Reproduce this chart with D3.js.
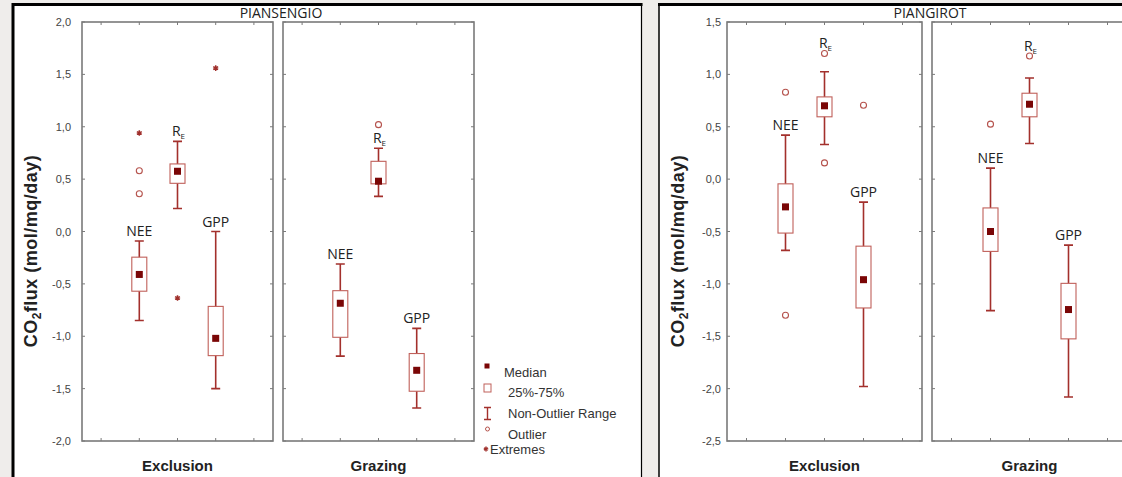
<!DOCTYPE html>
<html>
<head>
<meta charset="utf-8">
<script src="https://cdn.jsdelivr.net/npm/d3@7"></script>
<style>
  body { margin: 0; background: #efedeb; }
  svg { display: block; }
  .tick-label { font-family: "Liberation Sans", Arial, sans-serif; font-size: 11px; fill: #444; }
  .var-label { font-family: "Open Sans", sans-serif; font-size: 14px; fill: #222; }
  .site-title { font-family: "Open Sans", sans-serif; font-size: 14px; fill: #222; }
  .x-title { font-family: "Liberation Sans", Arial, sans-serif; font-size: 15px; font-weight: bold; fill: #222; }
  .y-title { font-family: "Liberation Sans", Arial, sans-serif; font-size: 18px; font-weight: bold; fill: #222; letter-spacing: 0.5px; }
  .legend text { font-family: "Liberation Sans", Arial, sans-serif; font-size: 13px; fill: #333; }
</style>
</head>
<body>
<div id="chart"></div>
<script>
// categories
var variables = ["NEE", "RE", "GPP"];
var treatments = ["Exclusion", "Grazing"];
var sites = ["PIANSENGIO", "PIANGIROT"];

// box stats per variable: [whisker low, 25%, median, 75%, whisker high]
var piansengioExclusion = [[-0.85, -0.57, -0.41, -0.245, -0.09], [0.22, 0.46, 0.575, 0.645, 0.86], [-1.50, -1.185, -1.02, -0.715, 0.0]];
var piansengioGrazing = [[-1.19, -1.01, -0.685, -0.565, -0.31], [0.335, 0.455, 0.48, 0.67, 0.795], [-1.685, -1.525, -1.325, -1.165, -0.925]];
var piangirotExclusion = [[-0.68, -0.515, -0.265, -0.045, 0.42], [0.33, 0.595, 0.70, 0.785, 1.025], [-1.98, -1.23, -0.96, -0.64, -0.22]];
var piangirotGrazing = [[-1.255, -0.69, -0.50, -0.275, 0.105], [0.34, 0.595, 0.715, 0.82, 0.965], [-2.08, -1.525, -1.245, -0.995, -0.63]];

// outliers (circles) per variable
var piansengioExclusionOut = [[0.58, 0.36], [], []];
var piansengioGrazingOut = [[], [1.02], []];
var piangirotExclusionOut = [[0.83, -1.30], [1.20, 0.155], [0.705]];
var piangirotGrazingOut = [[0.525], [1.175], []];

// extremes (stars) per variable
var piansengioExclusionExt = [[0.94], [-0.635], [1.56]];
var piansengioGrazingExt = [[], [], []];
var piangirotExclusionExt = [[], [], []];
var piangirotGrazingExt = [[], [], []];

// value the variable name sits on
var piansengioExclusionLab = [-0.09, 0.86, 0.0];
var piansengioGrazingLab = [-0.31, 0.795, -0.925];
var piangirotExclusionLab = [0.42, 1.20, -0.22];
var piangirotGrazingLab = [0.105, 1.175, -0.63];

// y ticks
var piansengioTicks = [2.0, 1.5, 1.0, 0.5, 0.0, -0.5, -1.0, -1.5, -2.0];
var piangirotTicks = [1.5, 1.0, 0.5, 0.0, -0.5, -1.0, -1.5, -2.0, -2.5];

var W = 1122, H = 477;
var plotTop = 22, plotBottom = 441;

var whiskerCol = "#a3302c",
  boxCol = "#c0605a",
  medianCol = "#7a0606",
  outCol = "#b5524c";

var svg = d3.select("#chart")
  .append("svg")
  .attr("width", W)
  .attr("height", H);

var frames = [
  { site: sites[0], left: 13, right: 641.5, x0: 82, pw: 191, gap: 10, ticks: piansengioTicks, titleX: 31,
    stats: [piansengioExclusion, piansengioGrazing],
    outs: [piansengioExclusionOut, piansengioGrazingOut],
    exts: [piansengioExclusionExt, piansengioGrazingExt],
    labs: [piansengioExclusionLab, piansengioGrazingLab] },
  { site: sites[1], left: 659, right: W + 10, x0: 727, pw: 195, gap: 10, ticks: piangirotTicks, titleX: 678,
    stats: [piangirotExclusion, piangirotGrazing],
    outs: [piangirotExclusionOut, piangirotGrazingOut],
    exts: [piangirotExclusionExt, piangirotGrazingExt],
    labs: [piangirotExclusionLab, piangirotGrazingLab] }
];

var fmt = function (v) { return d3.format(".1f")(v).replace(".", ",").replace("−", "-"); };

frames.forEach(function (f, fi) {
  // white frame with black border
  svg.append("rect")
    .attr("x", f.left).attr("y", 4)
    .attr("width", f.right - f.left).attr("height", H)
    .attr("fill", "#fff");
  svg.append("line")
    .attr("x1", f.left - 1).attr("x2", f.right + 1).attr("y1", 4.5).attr("y2", 4.5)
    .attr("stroke", "#000").attr("stroke-width", 3);
  svg.append("line")
    .attr("x1", f.left).attr("x2", f.left).attr("y1", 3).attr("y2", H)
    .attr("stroke", "#000").attr("stroke-width", fi == 0 ? 3 : 1.5);
  if (f.right < W) {
    svg.append("line")
      .attr("x1", f.right).attr("x2", f.right).attr("y1", 3).attr("y2", H)
      .attr("stroke", "#000").attr("stroke-width", 1.2);
  }

  var y = d3.scaleLinear()
    .domain(d3.extent(f.ticks))
    .range([plotBottom, plotTop]);

  // tick labels
  svg.append("g")
    .selectAll("text")
    .data(f.ticks)
    .enter()
    .append("text")
    .attr("class", "tick-label")
    .attr("x", f.x0 - (fi == 0 ? 11 : 6))
    .attr("y", function (d) { return y(d) + 4; })
    .attr("text-anchor", "end")
    .text(fmt);

  // y title
  var yt = svg.append("text")
    .attr("class", "y-title")
    .attr("text-anchor", "middle")
    .attr("transform", "translate(" + (f.titleX + 6) + ",251) rotate(-90)");
  yt.append("tspan").text("CO");
  yt.append("tspan").attr("dy", 4).attr("font-size", "12px").text("2");
  yt.append("tspan").attr("dy", -4).text("flux (mol/mq/day)");

  // site title centred on the gap
  svg.append("text")
    .attr("class", "site-title")
    .attr("text-anchor", "middle")
    .attr("x", f.x0 + f.pw + f.gap / 2 + 3)
    .attr("y", 18)
    .text(f.site);

  treatments.forEach(function (t, ti) {
    var px = f.x0 + ti * (f.pw + f.gap);
    var g = svg.append("g").attr("transform", "translate(" + px + ",0)");

    var x = d3.scalePoint()
      .domain(d3.range(5))
      .range([0, f.pw])
      .padding(0.5);

    // panel border
    g.append("rect")
      .attr("x", 0).attr("y", plotTop)
      .attr("width", f.pw).attr("height", plotBottom - plotTop)
      .attr("fill", "none")
      .attr("stroke", "#7a7a7a")
      .attr("stroke-width", 1.6);

    // inward ticks
    var ticksG = g.append("g").attr("stroke", "#7a7a7a").attr("stroke-width", 1);
    ticksG.selectAll(".xt")
      .data(d3.range(5))
      .enter()
      .append("path")
      .attr("d", function (d) {
        return "M" + x(d) + "," + plotTop + "v3M" + x(d) + "," + plotBottom + "v-3";
      });
    ticksG.selectAll(".yt")
      .data(f.ticks)
      .enter()
      .append("path")
      .attr("d", function (d) {
        return "M0," + y(d) + "h3M" + f.pw + "," + y(d) + "h-3";
      });

    // x title
    g.append("text")
      .attr("class", "x-title")
      .attr("text-anchor", "middle")
      .attr("x", f.pw / 2)
      .attr("y", 471)
      .text(t);

    var stats = f.stats[ti];
    variables.forEach(function (v, vi) {
      var cx = x(vi + 1);
      var s = stats[vi];
      var bg = g.append("g");

      // whisker
      bg.append("path")
        .attr("d", "M" + cx + "," + y(s[4]) + "V" + y(s[0]) +
          "M" + (cx - 4.5) + "," + y(s[4]) + "h9" +
          "M" + (cx - 4.5) + "," + y(s[0]) + "h9")
        .attr("stroke", whiskerCol)
        .attr("stroke-width", 1.6)
        .attr("fill", "none");

      // box
      bg.append("rect")
        .attr("x", cx - 7.5)
        .attr("y", y(s[3]))
        .attr("width", 15)
        .attr("height", y(s[1]) - y(s[3]))
        .attr("fill", "#fff")
        .attr("stroke", boxCol)
        .attr("stroke-width", 1.1);

      // median
      bg.append("rect")
        .attr("x", cx - 3.5)
        .attr("y", y(s[2]) - 3.5)
        .attr("width", 7)
        .attr("height", 7)
        .attr("fill", medianCol);

      // outliers
      bg.selectAll(".out")
        .data(f.outs[ti][vi])
        .enter()
        .append("circle")
        .attr("cx", cx)
        .attr("cy", function (d) { return y(d); })
        .attr("r", 3)
        .attr("fill", "#fff")
        .attr("stroke", outCol)
        .attr("stroke-width", 1.1);

      // extremes
      bg.selectAll(".ext")
        .data(f.exts[ti][vi])
        .enter()
        .append("path")
        .attr("transform", function (d) { return "translate(" + cx + "," + y(d) + ")"; })
        .attr("d", d3.symbol(d3.symbolAsterisk, 22))
        .attr("stroke", "#a0302c")
        .attr("stroke-width", 1.5)
        .attr("fill", "none");

      // variable name
      var lab = bg.append("text")
        .attr("class", "var-label")
        .attr("text-anchor", "middle")
        .attr("x", cx + (v == "RE" ? 1 : 0))
        .attr("y", y(f.labs[ti][vi]) - 5);
      if (v == "RE") {
        lab.append("tspan").text("R");
        lab.append("tspan").attr("dy", 3).attr("font-size", "8px").text("E");
      } else {
        lab.text(v);
      }
    });
  });
});

// legend
var legend = svg.append("g")
  .attr("class", "legend")
  .attr("transform", "translate(487,0)");

legend.append("rect")
  .attr("x", -2.5).attr("y", 363.5).attr("width", 5).attr("height", 5)
  .attr("fill", medianCol);
legend.append("text").attr("x", 17).attr("y", 377).text("Median");

legend.append("rect")
  .attr("x", -3).attr("y", 384).attr("width", 7).attr("height", 8)
  .attr("fill", "#fff").attr("stroke", boxCol).attr("stroke-width", 1);
legend.append("text").attr("x", 21).attr("y", 397).text("25%-75%");

legend.append("path")
  .attr("d", "M-3,407.5h7M0.5,407.5V419.5M-3,419.5h7")
  .attr("stroke", whiskerCol).attr("stroke-width", 1.4).attr("fill", "none");
legend.append("text").attr("x", 21).attr("y", 418).text("Non-Outlier Range");

legend.append("circle")
  .attr("cx", 0.5).attr("cy", 429).attr("r", 2)
  .attr("fill", "#fff").attr("stroke", outCol).attr("stroke-width", 1);
legend.append("text").attr("x", 21).attr("y", 439).text("Outlier");

legend.append("path")
  .attr("transform", "translate(-1,449)")
  .attr("d", d3.symbol(d3.symbolAsterisk, 16))
  .attr("stroke", "#a0302c").attr("stroke-width", 1.4).attr("fill", "none");
legend.append("text").attr("x", 3).attr("y", 454).text("Extremes");
</script>
</body>
</html>
